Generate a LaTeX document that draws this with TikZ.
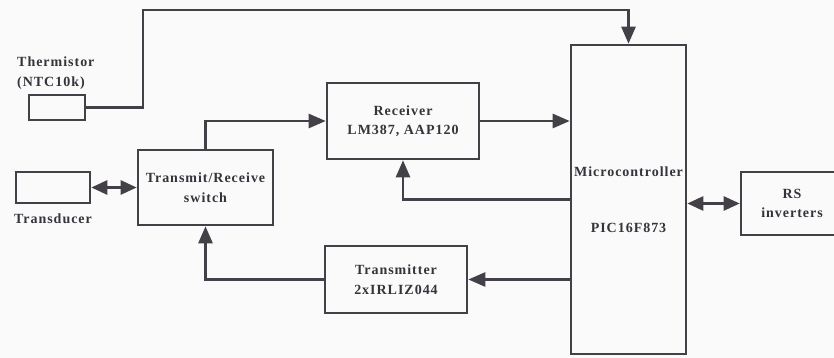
\documentclass[tikz,border=0pt]{standalone}
\usepackage{fontspec}
\setmainfont{Liberation Serif}
\newfontfamily\blkfont[LetterSpace=7]{Liberation Serif}
\usetikzlibrary{arrows.meta, positioning}
\definecolor{colink}{RGB}{68,64,72}
\definecolor{colpaper}{RGB}{250,250,250}

\begin{document}
\begin{tikzpicture}[
  x=1pt, y=-1pt,
  box/.style={rectangle, draw=colink, line width=2.6pt, inner sep=0pt,
              align=center, font=\blkfont\fontsize{14}{19.5}\selectfont\bfseries,
              text=colink!80!black},
  lbl/.style={inner sep=0pt, align=left,
              font=\blkfont\fontsize{14}{19.5}\selectfont\bfseries,
              text=colink!80!black},
  arr/.style={-{Triangle[length=17pt, width=14pt]}, colink, line width=2.6pt},
  darr/.style={{Triangle[length=16pt, width=14pt]}-{Triangle[length=16pt, width=14pt]},
               colink, line width=2.6pt}
]
\fill[colpaper] (0,0) rectangle (834,358);
\useasboundingbox (0,0) rectangle (834,358);

% Sensors on the left
\node[box, minimum width=56pt, minimum height=25pt] (therm) at (57,107.5) {};
\node[lbl, anchor=north west] (thermlbl) at (17,57) {Thermistor\\(NTC10k)};
\node[box, minimum width=74pt, minimum height=31pt] (transd) at (53,187.5) {};
\node[lbl, below=9pt of transd] (transdlbl) {Transducer};

% Signal path
\node[box, minimum width=135pt, minimum height=75pt] (trsw) at (205.5,187.5)
    {Transmit/Receive\\switch};
\node[box, minimum width=152pt, minimum height=76pt] (recv) at (403,121)
    {Receiver\\LM387, AAP120};
\node[box, minimum width=142pt, minimum height=67pt] (trans) at (396,279.5)
    {Transmitter\\2xIRLIZ044};

% Controller and interface
\node[box, minimum width=115pt, minimum height=309pt] (mcu) at (628.5,199.5)
    {Microcontroller\\[37pt]PIC16F873};
\node[box, minimum width=102pt, minimum height=63pt] (rs) at (792,203.5)
    {RS\\inverters};

% Thermistor to controller
\coordinate (tbend) at (143,10);
\draw[arr] (therm.east) -| (tbend) -| (mcu.north);

% Receive path
\draw[darr] (transd.east) -- (trsw.west);
\draw[arr] (trsw.north) |- (recv.west);
\draw[arr] (recv.east) -- (recv.east -| mcu.west);
\draw[arr] (mcu.west) -| (recv.south);

% Transmit path
\draw[arr] (mcu.west |- trans.east) -- (trans.east);
\draw[arr] (trans.west) -| (trsw.south);

% Serial link
\draw[darr] (mcu.east |- rs.west) -- (rs.west);
\end{tikzpicture}
\end{document}
